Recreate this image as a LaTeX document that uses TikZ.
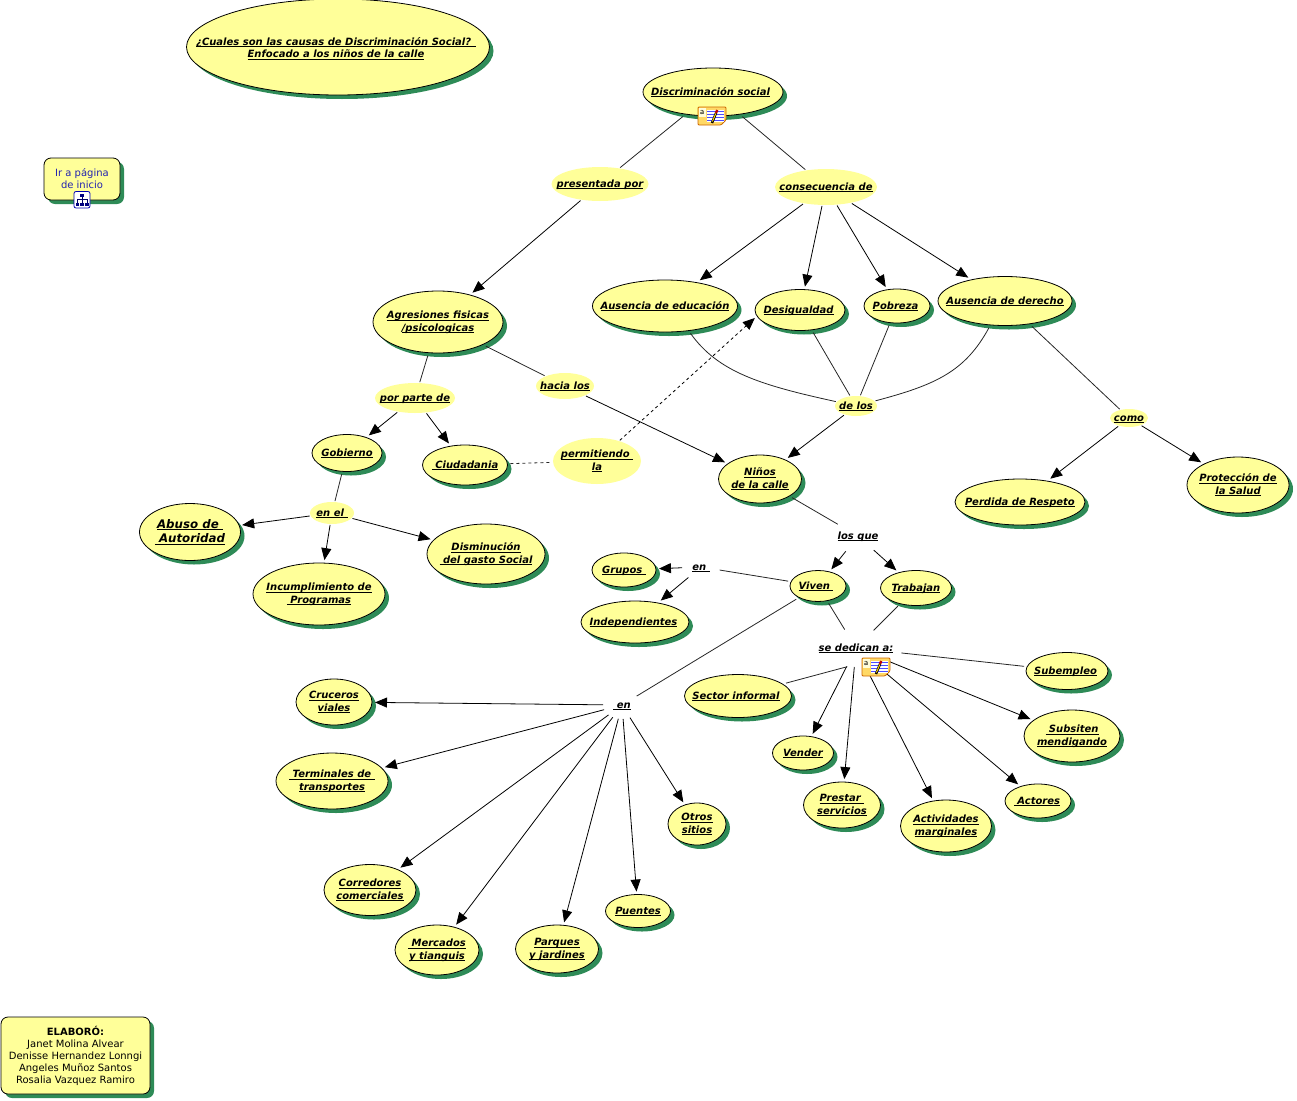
\documentclass[tikz,border=0pt]{standalone}
\usepackage{fontspec}
\setmainfont{DejaVu Sans}
\usetikzlibrary{arrows.meta}
\usetikzlibrary{shapes.geometric}
\usetikzlibrary{shadows}
\definecolor{cmapyellow}{HTML}{FFFF99}
\definecolor{cmapgreen}{HTML}{2E8B57}
\definecolor{cmapblue}{HTML}{2222B0}
\definecolor{noteorange}{HTML}{FFD966}
\newcommand{\zt}[1]{\makebox[0pt]{\smash{\raisebox{-.3em}{\begin{tabular}{@{}c@{}}#1\end{tabular}}}}}
\newcommand{\lk}[1]{\sbox0{#1}\rlap{\rule[-1.7pt]{\wd0}{.8pt}}\box0}
\newcommand{\noteicon}[1]{%
  \begin{scope}[shift={(#1)}]
    \draw[draw=orange!80!black,fill=noteorange,rounded corners=1pt] (-14,-9) -- (14,-9) -- (14,4) -- (9,9) -- (-14,9) -- cycle;
    \fill[yellow!15!white] (-13.5,-8.5) rectangle (-6,1);
    \node[font=\fontsize{9}{9}\selectfont\sffamily,inner sep=0] at (-10,-4) {a};
    \fill[white] (-5,-6) rectangle (12,6);
    \foreach \yy in {-5,-2,1,4}
      \draw[blue!70!white,line width=.7pt] (-5,\yy) -- (12,\yy);
    \draw[black,line width=2.4pt] (0,7) -- (4,-3);
    \draw[yellow!70!orange,line width=1pt] (0.4,5.5) -- (3.8,-2.5);
    \draw[red!75!black,line width=2.4pt] (4,-3) -- (5.2,-6);
  \end{scope}}
\begin{document}
\begin{tikzpicture}
      [x=1pt,y=-1pt,line width=.8pt,
      every node/.style={font=\fontsize{10}{12.5}\selectfont\bfseries\itshape},
      conc/.style 2 args={shape=ellipse,draw,fill=cmapyellow,inner sep=0,outer sep=3pt,
        minimum width=#1,minimum height=#2,
        drop shadow={shadow xshift=4pt,shadow yshift=-4pt,fill=cmapgreen,opacity=1}},
      linky/.style 2 args={shape=ellipse,fill=cmapyellow,inner sep=0,outer sep=1pt,
        minimum width=#1,minimum height=#2},
      linkw/.style 2 args={shape=ellipse,inner sep=0,outer sep=1pt,
        minimum width=#1,minimum height=#2},
      boxy/.style 2 args={shape=rectangle,rounded corners=7pt,draw,fill=cmapyellow,inner sep=0,
        minimum width=#1,minimum height=#2,align=center,
        drop shadow={shadow xshift=4pt,shadow yshift=-4pt,fill=cmapgreen,opacity=1}},
      plain/.style={draw=black!85},
      arr/.style={draw=black,-{Triangle[length=12pt,width=10pt]}},
      ]
\useasboundingbox (0,0) rectangle (1297,1100);

% concepts
\node[conc={303}{96}] (titulo) at (338,47) {\smash{\raisebox{-1.5pt}{\zt{\lk{¿Cuales son las causas de Discriminación Social? }\kern4pt\\\lk{Enfocado a los niños de la calle}\kern4pt}}}};
\node[conc={140}{48}] (discr) at (713,92) {\zt{\lk{Discriminación social}\kern5pt}};
\node[conc={130}{62}] (agres) at (438,322) {\zt{\lk{Agresiones fisicas}\\\lk{/psicologicas}}};
\node[conc={145}{52}] (aedu) at (665,306) {\zt{\lk{Ausencia de educación}}};
\node[conc={90}{41}] (desig) at (800,310) {\zt{\lk{Desigualdad}\kern3pt}};
\node[conc={66}{34}] (pobre) at (897,306) {\zt{\lk{Pobreza}\kern3pt}};
\node[conc={134}{49}] (ader) at (1005,301) {\zt{\lk{Ausencia de derecho}}};
\node[conc={70}{37}] (gobi) at (347,453) {\zt{\lk{Gobierno}}};
\node[conc={85}{40}] (ciud) at (465,465) {\zt{\lk{ Ciudadania}}};
\node[conc={83}{48}] (ninos) at (760,479) {\zt{\lk{Niños}\\\lk{de la calle}}};
\node[conc={130}{46}] (perd) at (1020,502) {\zt{\lk{Perdida de Respeto}}};
\node[conc={102}{56}] (prot) at (1238,485) {\zt{\lk{Protección de}\\\lk{la Salud}}};
\node[conc={101}{57}] (abuso) at (190,532) {\fontsize{11.8}{14.5}\selectfont\zt{\lk{Abuso de }\\\lk{ Autoridad}}};
\node[conc={132}{62}] (incum) at (319,594) {\zt{\lk{Incumplimiento de}\\\lk{ Programas}}};
\node[conc={118}{60}] (dismi) at (486,554) {\zt{\lk{Disminución}\\\lk{ del gasto Social}}};
\node[conc={64}{34}] (grupos) at (624,570) {\zt{\lk{Grupos }}};
\node[conc={108}{42}] (indep) at (635,622) {\zt{\lk{Independientes}\kern3pt}};
\node[conc={56}{31}] (viven) at (818,586) {\zt{\lk{Viven }\kern4pt}};
\node[conc={71}{35}] (traba) at (916,588) {\zt{\lk{Trabajan}}};
\node[conc={82}{37}] (subem) at (1067,671) {\zt{\lk{Subempleo}\kern3pt}};
\node[conc={107}{43}] (sector) at (738,696) {\zt{\lk{Sector informal}\kern4pt}};
\node[conc={61}{34}] (vender) at (803,753) {\zt{\lk{Vender}}};
\node[conc={77}{46}] (prest) at (842,805) {\zt{\lk{Prestar }\\\lk{servicios}}};
\node[conc={91}{52}] (activ) at (946,826) {\zt{\lk{Actividades}\\\lk{marginales}}};
\node[conc={66}{34}] (actor) at (1038,801) {\zt{\lk{ Actores}\kern2pt}};
\node[conc={96}{52}] (subsi) at (1072,736) {\zt{\lk{ Subsiten}\\\lk{mendigando}}};
\node[conc={76}{46}] (cruce) at (334,702) {\zt{\lk{Cruceros}\\\lk{viales}}};
\node[conc={112}{56}] (termi) at (332,781) {\zt{\lk{ Terminales de }\\\lk{transportes}}};
\node[conc={92}{51}] (corre) at (370,890) {\zt{\lk{Corredores}\\\lk{comerciales}}};
\node[conc={84}{50}] (merca) at (437,950) {\zt{\lk{ Mercados}\\\lk{y tianguis}}};
\node[conc={83}{48}] (parqu) at (557,949) {\zt{\lk{Parques}\\\lk{y jardines}}};
\node[conc={65}{33}] (puent) at (638,911) {\zt{\lk{Puentes}}};
\node[conc={58}{42}] (otros) at (697,824) {\zt{\lk{Otros}\\\lk{sitios}}};

% linking phrases
\node[linky={97}{34}] (presen) at (600,184) {\zt{\lk{presentada por}}};
\node[linky={102}{36}] (consec) at (826,187) {\zt{\lk{consecuencia de}}};
\node[linky={80}{30}] (porpar) at (415,398) {\zt{\lk{por parte de}}};
\node[linky={58}{26}] (hacia) at (565,386) {\zt{\lk{hacia los}}};
\node[linky={42}{20}] (delos) at (856,406) {\zt{\lk{de los}}};
\node[linky={38}{18}] (como) at (1129,418) {\zt{\lk{como}}};
\node[linky={88}{46}] (permi) at (597,461) {\zt{\lk{permitiendo }\\\lk{la}}};
\node[linky={44}{22}] (enel) at (332,513) {\zt{\lk{en el }}};
\node[linkw={54}{32}] (losque) at (858,536) {\zt{\lk{los que}}};
\node[linkw={36}{26}] (enviv) at (701,567) {\zt{\lk{en }}};
\node[linkw={92}{36}] (sededi) at (856,648) {\zt{\lk{se dedican a:}}};
\node[linkw={36}{26}] (enlug) at (622,705) {\zt{\lk{ en}}};

% boxes
\node[boxy={76}{42},font=\fontsize{10}{12}\selectfont,text=cmapblue] (inicio) at (82,179) {\raisebox{1pt}{Ir a página}\\\raisebox{1pt}{de inicio}};
\node[boxy={149}{77},font=\fontsize{10}{12}\selectfont] (elab) at (75.5,1055.5) {\textbf{ELABORÓ:}\\Janet Molina Alvear\\Denisse Hernandez Lonngi\\Angeles Muñoz Santos\\Rosalia Vazquez Ramiro};

% connectors
\draw[plain] (discr) -- (presen);
\draw[plain] (discr) -- (consec);
\draw[arr] (presen) -- (agres);
\draw[arr] (consec) -- (aedu);
\draw[arr] (consec) -- (desig);
\draw[arr] (consec) -- (pobre);
\draw[arr] (consec) -- (ader);
\draw[plain] (agres) -- (porpar);
\draw[plain] (agres) -- (hacia);
\draw[arr] (hacia) -- (ninos);
\draw[arr] (porpar) -- (gobi);
\draw[arr] (porpar) -- (ciud);
\draw[plain] (gobi) -- (enel);
\draw[arr] (enel) -- (abuso);
\draw[arr] (enel) -- (incum);
\draw[arr] (enel) -- (dismi);
\draw[plain,dashed] (ciud) -- (permi);
\draw[arr,dashed] (permi) -- (desig.190);
\draw[plain] (aedu.-47) .. controls (718,372) and (760,385) .. (delos);
\draw[plain] (desig) -- (delos);
\draw[plain] (pobre) -- (delos);
\draw[plain] (ader.-121) .. controls (965,372) and (935,385) .. (delos);
\draw[arr] (delos) -- (ninos);
\draw[plain] (ader) -- (como);
\draw[arr] (como) -- (perd);
\draw[arr] (como) -- (prot);
\draw[plain] (ninos) -- (losque);
\draw[arr] (losque) -- (viven);
\draw[arr] (losque) -- (traba);
\draw[plain] (viven) -- (enviv);
\draw[arr] (enviv) -- (grupos);
\draw[arr] (enviv) -- (indep);
\draw[plain] (viven) -- (enlug);
\draw[plain] (viven) -- (sededi);
\draw[plain] (traba) -- (sededi);
\draw[plain] (sededi.-115) -- (sector);
\draw[arr] (sededi) -- (vender);
\draw[arr] (sededi) -- (prest);
\draw[arr] (sededi) -- (activ);
\draw[arr] (sededi) -- (actor);
\draw[arr] (sededi) -- (subsi);
\draw[plain] (sededi) -- (subem);
\draw[arr] (enlug) -- (cruce);
\draw[arr] (enlug) -- (termi);
\draw[arr] (enlug) -- (corre);
\draw[arr] (enlug) -- (merca);
\draw[arr] (enlug) -- (parqu);
\draw[arr] (enlug) -- (puent);
\draw[arr] (enlug) -- (otros);

% icons
\noteicon{712,116}
\noteicon{876,667}
\draw[draw=blue!70!black,fill=white,rounded corners=2pt] (74,191.5) rectangle (90,208);
\draw[blue!40!black,line width=.7pt] (82,196) -- (82,199) (77,204) -- (77,199) -- (87,199) -- (87,204) (82,199) -- (82,204);
\foreach \xx/\yy in {80/194,75.5/202.5,80.3/202.5,85/202.5}
  \fill[blue!50!black] (\xx,\yy) rectangle +(3.5,3);
\end{tikzpicture}
\end{document}
